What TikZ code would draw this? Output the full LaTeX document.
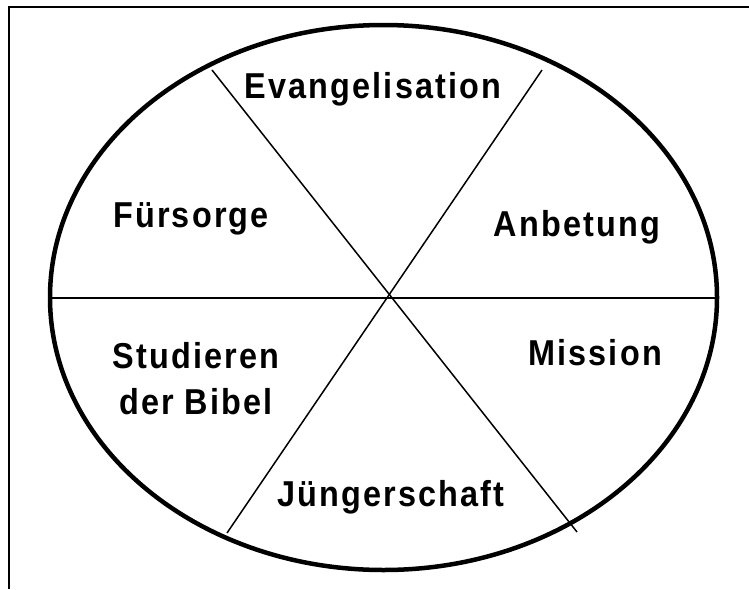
\documentclass[tikz,border=0pt]{standalone}
\usepackage{fontspec}
\newfontfamily\lblfont{Liberation Sans}[LetterSpace=6, FakeStretch=0.9]
\usetikzlibrary{positioning}

\begin{document}
\begin{tikzpicture}[
    x=1pt, y=-1pt,
    rim/.style ={line width=4.5pt, draw=black},
    seg/.style ={line width=1.5pt, draw=black},
    frm/.style ={line width=2pt, draw=black},
    lbl/.style ={font=\lblfont\bfseries\fontsize{36}{46}\selectfont,
                 align=center, inner sep=0pt},
  ]
  \useasboundingbox (0,0) rectangle (749,589);
  % open frame (left and top only)
  \coordinate (fbl) at (9,589);
  \coordinate (ftl) at (9,7);
  \coordinate (ftr) at (749,7);
  \draw[frm] (fbl) -- (ftl) -- (ftr);
  % outer ellipse
  \coordinate (mid) at (383.5,297.5);
  \draw[rim] (mid) ellipse [x radius=333.5, y radius=272.5];
  % dividing lines
  \coordinate (hl) at (50,298);
  \coordinate (hr) at (717,298);
  \coordinate (da1) at (212,70);
  \coordinate (da2) at (577,532);
  \coordinate (db1) at (542,70);
  \coordinate (db2) at (227,533);
  \draw[seg] (hl) -- (hr);
  \draw[seg] (da1) -- (da2);
  \draw[seg] (db1) -- (db2);
  % sector labels
  \node[lbl] (evang) at (373,89)  {Evangelisation};
  \node[lbl] (fuer)  at (191,219) {Fürsorge};
  \node[lbl] (anbet) at (577,227) {Anbetung};
  \node[lbl] (stud)  at (196,379) {Studieren\\der Bibel};
  \node[lbl] (miss)  at (595,353) {Mission};
  \node[lbl] (juen)  at (391,497) {Jüngerschaft};
\end{tikzpicture}
\end{document}
